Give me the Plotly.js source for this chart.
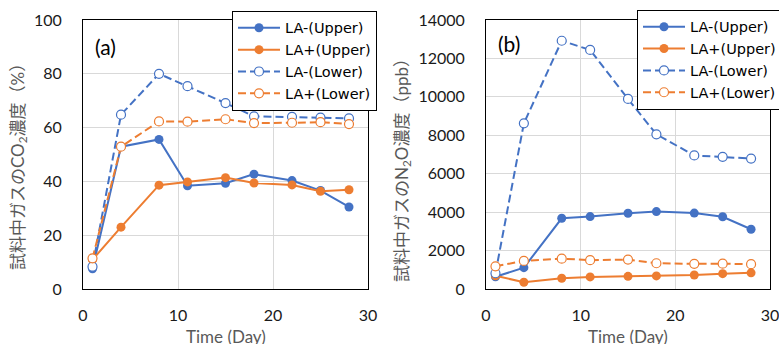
<!DOCTYPE html>
<html>
<head>
<meta charset="utf-8">
<script src="https://cdn.plot.ly/plotly-3.0.1.min.js"></script>
<style>html,body{margin:0;padding:0;background:#fff;}#chart{width:779px;height:344px;}</style>
</head>
<body>
<div id="chart"></div>
<script>
const days = [1, 4, 8, 11, 15, 18, 22, 25, 28];
const seriesNames = ['LA-(Upper)', 'LA+(Upper)', 'LA-(Lower)', 'LA+(Lower)'];

const co2_LAminus_upper = [7.5, 52.9, 55.6, 38.4, 39.3, 42.7, 40.3, 36.6, 30.5];
const co2_LAplus_upper  = [10.9, 23.0, 38.6, 39.8, 41.4, 39.4, 38.7, 36.3, 36.9];
const co2_LAminus_lower = [8.3, 64.8, 80.0, 75.4, 69.1, 64.2, 64.0, 63.7, 63.4];
const co2_LAplus_lower  = [11.4, 52.9, 62.3, 62.2, 63.1, 61.7, 61.8, 62.0, 61.3];

const n2o_LAminus_upper = [640, 1110, 3680, 3770, 3940, 4030, 3950, 3760, 3110];
const n2o_LAplus_upper  = [690, 350, 560, 630, 660, 680, 730, 800, 840];
const n2o_LAminus_lower = [820, 8620, 12920, 12440, 9890, 8050, 6950, 6880, 6790];
const n2o_LAplus_lower  = [1180, 1460, 1580, 1500, 1530, 1340, 1310, 1320, 1290];

const BLUE = '#4472C4', ORANGE = '#ED7D31';
const styles = [
  {color: BLUE, dash: 'solid', open: false},
  {color: ORANGE, dash: 'solid', open: false},
  {color: BLUE, dash: '8px,4px', open: true},
  {color: ORANGE, dash: '8px,4px', open: true}
];

function mk(y, i, xa, ya, leg) {
  const s = styles[i];
  return {
    x: days, y: y, name: seriesNames[i], type: 'scatter', mode: 'lines+markers',
    xaxis: xa, yaxis: ya, legend: leg,
    line: {color: s.color, width: 2, dash: s.dash},
    marker: {symbol: 'circle', size: 9, color: s.open ? '#ffffff' : s.color,
             line: {color: s.color, width: s.open ? 1.2 : 0}}
  };
}

const co2 = [co2_LAminus_upper, co2_LAplus_upper, co2_LAminus_lower, co2_LAplus_lower];
const n2o = [n2o_LAminus_upper, n2o_LAplus_upper, n2o_LAminus_lower, n2o_LAplus_lower];
const traces = [];
co2.forEach((y, i) => traces.push(mk(y, i, 'x', 'y', 'legend')));
n2o.forEach((y, i) => traces.push(mk(y, i, 'x2', 'y2', 'legend2')));

const FONT = 'Lato, "Noto Sans CJK JP", sans-serif';
const tickFont = {family: FONT, size: 16, color: '#1a1a1a'};
const xCommon = {
  range: [0, 30], tickvals: [0, 10, 20, 30], showgrid: true, gridcolor: '#d9d9d9',
  zeroline: false, showline: true, mirror: true, linecolor: '#000', linewidth: 1,
  ticks: 'outside', ticklen: 12, tickcolor: 'rgba(0,0,0,0)', tickfont: tickFont,
  ticklabeloverflow: 'allow', fixedrange: true
};
const yCommon = {
  showgrid: true, gridcolor: '#d9d9d9', zeroline: false, showline: true, mirror: true,
  linecolor: '#000', linewidth: 1, ticks: 'outside', ticklen: 17, tickcolor: 'rgba(0,0,0,0)',
  tickfont: tickFont, tickformat: 'd', ticklabeloverflow: 'allow', fixedrange: true
};
const legCommon = {
  bgcolor: '#ffffff', bordercolor: '#000', borderwidth: 1, xanchor: 'left', yanchor: 'top',
  font: {family: '"DejaVu Sans", sans-serif', size: 14.5, color: '#000'}, tracegroupgap: 0,
  itemwidth: 42
};

const layout = {
  width: 779, height: 344,
  margin: {l: 0, r: 0, t: 20, b: 55, autoexpand: false},
  paper_bgcolor: '#fff', plot_bgcolor: '#fff',
  showlegend: true,
  xaxis: Object.assign({}, xCommon, {domain: [83/779, 368/779], anchor: 'y'}),
  yaxis: Object.assign({}, yCommon, {range: [0, 100], tickvals: [0, 20, 40, 60, 80, 100], anchor: 'x'}),
  xaxis2: Object.assign({}, xCommon, {domain: [486/779, 770/779], anchor: 'y2'}),
  yaxis2: Object.assign({}, yCommon, {range: [0, 14000], tickvals: [0, 2000, 4000, 6000, 8000, 10000, 12000, 14000], anchor: 'x2'}),
  legend: Object.assign({}, legCommon, {x: 232/779, y: 1.034}),
  legend2: Object.assign({}, legCommon, {x: 637/779, y: 1.038}),
  annotations: [
    {text: '(a)', xref: 'paper', yref: 'paper', x: 93/779, y: 0.903, xanchor: 'left', yanchor: 'middle',
     showarrow: false, font: {family: FONT, size: 21, color: '#000'}},
    {text: '(b)', xref: 'paper', yref: 'paper', x: 496/779, y: 0.914, xanchor: 'left', yanchor: 'middle',
     showarrow: false, font: {family: FONT, size: 21, color: '#000'}},
    {text: '試料中ガスのCO<sub>2</sub>濃度（%）', xref: 'paper', yref: 'paper', x: 19/779, y: 0.468,
     textangle: -90, xanchor: 'center', yanchor: 'middle', showarrow: false,
     font: {family: FONT, size: 17, color: '#595959'}},
    {text: '試料中ガスのN<sub>2</sub>O濃度（ppb）', xref: 'paper', yref: 'paper', x: 403/779, y: 0.457,
     textangle: -90, xanchor: 'center', yanchor: 'middle', showarrow: false,
     font: {family: FONT, size: 17, color: '#595959'}},
    {text: 'Time (Day)', xref: 'paper', yref: 'paper', x: 226/779, y: -0.175,
     xanchor: 'center', yanchor: 'middle', showarrow: false,
     font: {family: FONT, size: 17, color: '#595959'}},
    {text: 'Time (Day)', xref: 'paper', yref: 'paper', x: 628/779, y: -0.175,
     xanchor: 'center', yanchor: 'middle', showarrow: false,
     font: {family: FONT, size: 17, color: '#595959'}}
  ]
};

Plotly.newPlot('chart', traces, layout, {displayModeBar: false, staticPlot: true});
</script>
</body>
</html>
